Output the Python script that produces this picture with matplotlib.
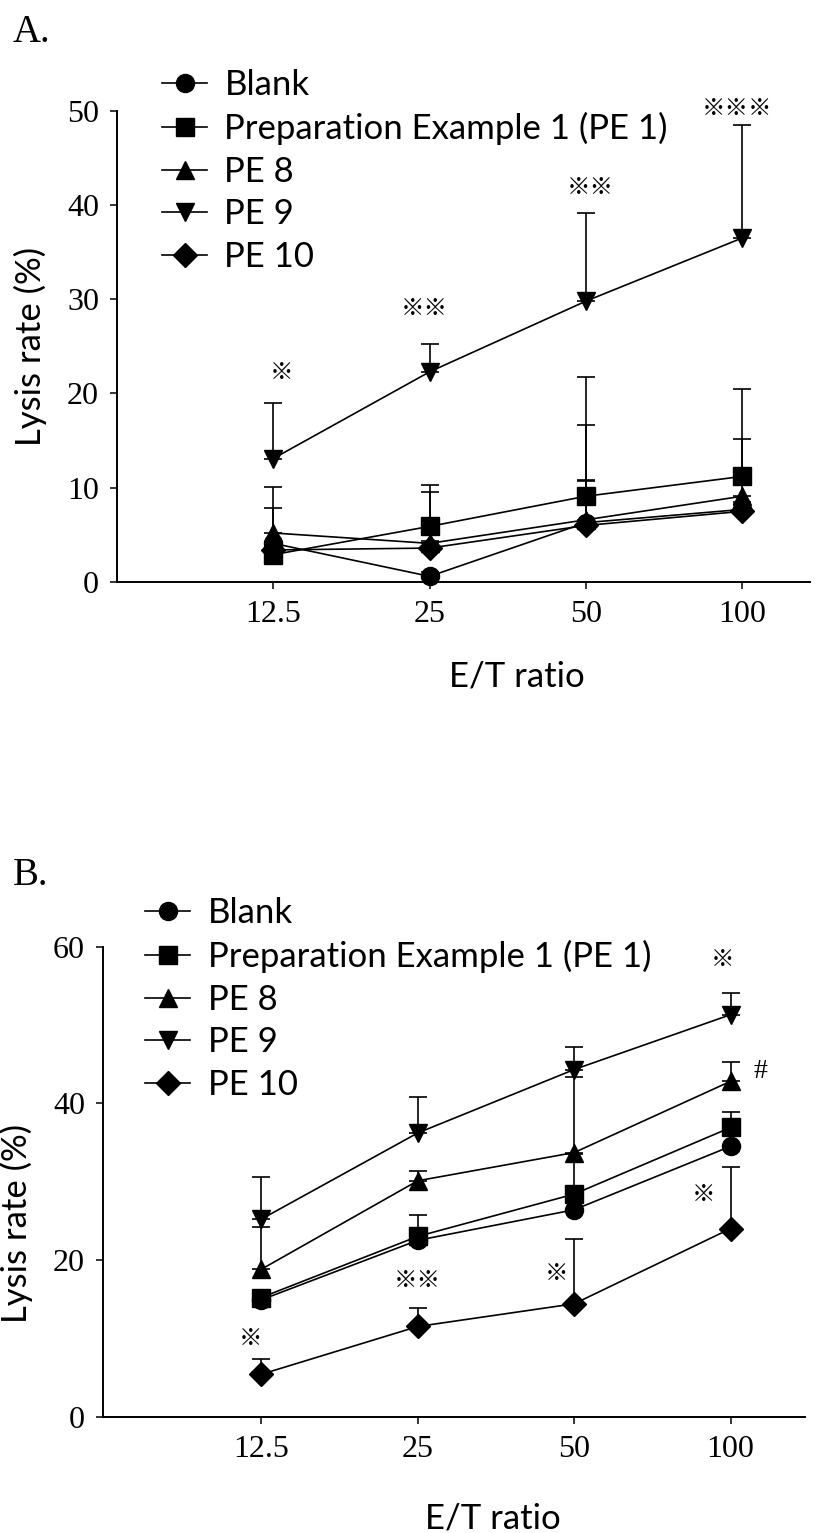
import matplotlib
matplotlib.use("Agg")
import matplotlib.pyplot as plt
from matplotlib.ticker import NullLocator

plt.rcParams['font.family'] = ['Lato', 'DejaVu Sans']

# ---------------- data ----------------
ratios = [12.5, 25, 50, 100]
ratio_labels = ['12.5', '25', '50', '100']
series_names = ['Blank', 'Preparation Example 1 (PE 1)', 'PE 8', 'PE 9', 'PE 10']
markers = ['o', 's', '^', 'v', 'D']

# Panel A (mean, upper SD)
A_blank = [4.1, 0.6, 6.3, 7.7]
A_blank_sd = [3.7, 0.5, 4.5, 0.8]
A_pe1 = [2.9, 5.9, 9.1, 11.2]
A_pe1_sd = [0.8, 4.4, 12.6, 9.3]
A_pe8 = [5.2, 4.1, 6.6, 9.1]
A_pe8_sd = [4.9, 5.5, 10.1, 6.1]
A_pe9 = [13.1, 22.3, 29.8, 36.5]
A_pe9_sd = [5.9, 3.0, 9.3, 12.0]
A_pe10 = [3.4, 3.6, 6.0, 7.5]
A_pe10_sd = [0.8, 0.8, 4.7, 0.8]

# Panel B (mean, upper SD)
B_blank = [14.9, 22.5, 26.4, 34.5]
B_blank_sd = [0.6, 0.8, 1.0, 3.1]
B_pe1 = [15.2, 23.0, 28.4, 36.9]
B_pe1_sd = [0.6, 2.7, 5.1, 2.0]
B_pe8 = [18.8, 30.1, 33.7, 42.8]
B_pe8_sd = [5.4, 1.2, 9.6, 2.4]
B_pe9 = [25.2, 36.2, 44.3, 51.3]
B_pe9_sd = [5.4, 4.6, 2.9, 2.8]
B_pe10 = [5.4, 11.5, 14.4, 24.0]
B_pe10_sd = [1.9, 2.4, 8.3, 7.8]

# significance marks
A_sig_x = [12.5, 25, 50, 100]
A_sig_text = ['※', '※※', '※※', '※※※']
A_sig_y = [22.2, 29.0, 41.9, 50.2]
B_sig_x = [12.5, 25, 50, 100, 100, 100]
B_sig_text = ['※', '※※', '※', '※', '※', '#']
B_sig_y = [10.0, 17.4, 18.3, 28.4, 58.4, 44.0]

# style offsets (pixels) for significance marks
A_sig_dx = [8, -5, 4, -5]
B_sig_dx = [-11, 0, -18, -27, -8, 30]

SERIF = 'Liberation Serif'
CJK = ['Noto Sans CJK JP', 'DejaVu Sans']

fig = plt.figure(figsize=(8.21, 15.33), dpi=100)
W, H = 821.0, 1533.0
axA = fig.add_axes([117 / W, 1 - 582 / H, 693 / W, (582 - 110.7) / H])
axB = fig.add_axes([103 / W, 1 - 1416.6 / H, 702 / W, (1416.6 - 946.5) / H])


def draw(ax, means, sds, ylim, yticks, xlim, sig_x, sig_t, sig_y, sig_dx,
         leg_anchor, ylab_xy, xlab_xy, panel_label, panel_xy):
    lines = []
    for m, s, mk, name in zip(means, sds, markers, series_names):
        ax.errorbar(ratios, m, yerr=[[0] * len(s), s], fmt='none', ecolor='black',
                    elinewidth=1.2, capsize=6.5, capthick=1.2, zorder=2, clip_on=False)
        ms = 12 if mk == 'D' else 13
        ln, = ax.plot(ratios, m, marker=mk, color='black', markersize=ms, lw=1.2,
                      markerfacecolor='black', markeredgecolor='black',
                      label=name, zorder=3, clip_on=False)
        lines.append(ln)
    ax.set_xscale('log', base=2)
    ax.set_xlim(*xlim)
    ax.set_xticks(ratios)
    ax.set_xticklabels(ratio_labels)
    ax.xaxis.set_minor_locator(NullLocator())
    ax.set_ylim(*ylim)
    ax.set_yticks(yticks)
    ax.spines['top'].set_visible(False)
    ax.spines['right'].set_visible(False)
    ax.spines['left'].set_linewidth(1.4)
    ax.spines['bottom'].set_linewidth(1.4)
    ax.tick_params(direction='out', length=5, width=1.1, labelsize=23, pad=8)
    for lab in ax.get_xticklabels() + ax.get_yticklabels():
        lab.set_fontfamily(SERIF)
    ax.set_ylabel('Lysis rate (%)', fontsize=25)
    ax.yaxis.set_label_coords(*ylab_xy)
    ax.set_xlabel('E/T ratio', fontsize=25)
    ax.xaxis.set_label_coords(*xlab_xy)
    for x, t, y, dx in zip(sig_x, sig_t, sig_y, sig_dx):
        fam = CJK if t != '#' else [SERIF]
        fs = 17 if t != '#' else 20
        ax.annotate(t, xy=(x, y), xytext=(dx * 0.72, 0), textcoords='offset points',
                    ha='center', va='center', fontsize=fs, family=fam,
                    annotation_clip=False)
    ax.legend(handles=lines, loc='upper left', bbox_to_anchor=leg_anchor,
              frameon=False, fontsize=25, handlelength=1.3, handletextpad=0.5,
              labelspacing=0.31, borderpad=0, borderaxespad=0)
    ax.text(panel_xy[0], panel_xy[1], panel_label, transform=ax.transAxes,
            fontsize=28, family=SERIF, ha='left', va='center')


draw(axA, [A_blank, A_pe1, A_pe8, A_pe9, A_pe10],
     [A_blank_sd, A_pe1_sd, A_pe8_sd, A_pe9_sd, A_pe10_sd],
     (0, 50), [0, 10, 20, 30, 40, 50], (6.25, 135),
     A_sig_x, A_sig_text, A_sig_y, A_sig_dx,
     ((162 - 117) / 693, (582 - 69) / 471.3), (-0.101, 0.5), (0.577, -0.166),
     'A.', ((13 - 117) / 693, (582 - 33) / 471.3))

draw(axB, [B_blank, B_pe1, B_pe8, B_pe9, B_pe10],
     [B_blank_sd, B_pe1_sd, B_pe8_sd, B_pe9_sd, B_pe10_sd],
     (0, 60), [0, 20, 40, 60], (6.2, 139),
     B_sig_x, B_sig_text, B_sig_y, B_sig_dx,
     ((145 - 103) / 702, (1416.6 - 897) / 470.1), (-0.1, 0.41), (0.556, -0.182),
     'B.', ((13 - 103) / 702, (1416.6 - 875) / 470.1))

fig.savefig('out.png', dpi=100)
